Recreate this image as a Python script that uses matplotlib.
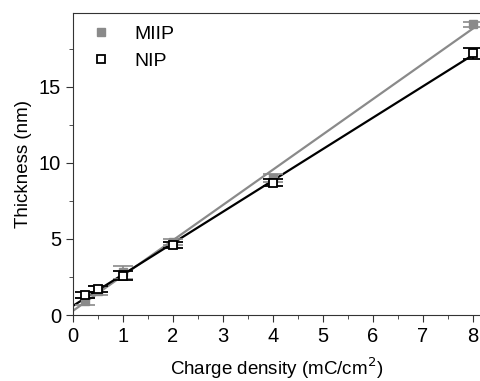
import numpy as np
import matplotlib
matplotlib.use("Agg")
import matplotlib.pyplot as plt
from matplotlib.ticker import MultipleLocator

plt.rcParams['font.family'] = ['Liberation Sans', 'DejaVu Sans']

charge = [0.25, 0.5, 1, 2, 4, 8]
miip = [0.9, 1.6, 2.8, 4.8, 9.0, 19.1]
miip_err = [0.25, 0.3, 0.4, 0.2, 0.25, 0.15]
nip = [1.3, 1.7, 2.6, 4.6, 8.7, 17.2]
nip_err = [0.2, 0.2, 0.3, 0.2, 0.25, 0.35]

gray = '#8a8a8a'

fig = plt.figure(figsize=(4.8, 3.81), dpi=100)
ax = fig.add_axes([0.152, 0.173, 0.848, 0.793])

# linear fits
xf = np.array([0, 8])
for y, c in [(miip, gray), (nip, 'black')]:
    k, b = np.polyfit(charge, y, 1)
    ax.plot(xf, k * xf + b, color=c, lw=1.6, zorder=2)

ax.errorbar(charge, miip, yerr=miip_err, fmt='s', color=gray, ms=6,
            capsize=7, elinewidth=1.2, capthick=1.2, label='MIIP', zorder=3)
ax.errorbar(charge, nip, yerr=nip_err, fmt='s', color='black', mfc='white',
            mec='black', mew=1.3, ms=6, capsize=7, elinewidth=1.2,
            capthick=1.2, label='NIP', zorder=4)

ax.set_xlim(0, 8.14)
ax.set_ylim(0, 19.85)
ax.xaxis.set_major_locator(MultipleLocator(1))
ax.xaxis.set_minor_locator(MultipleLocator(0.5))
ax.yaxis.set_major_locator(MultipleLocator(5))
ax.yaxis.set_minor_locator(MultipleLocator(2.5))
ax.tick_params(which='both', direction='out', labelsize=14.5, color='#333333')
ax.tick_params(which='major', length=5)
ax.tick_params(which='minor', length=3)
ax.spines['right'].set_visible(False)
for s in ['left', 'top', 'bottom']:
    ax.spines[s].set_color('#333333')

ax.set_xlabel('Charge density (mC/cm$^2$)', fontsize=13.5, labelpad=7)
ax.set_ylabel('Thickness (nm)', fontsize=13.5, labelpad=5)

handles, labels = ax.get_legend_handles_labels()
handles = [h[0] for h in handles]
ax.legend(handles, labels, loc='upper left', frameon=False, fontsize=14,
          handletextpad=0.9, borderaxespad=0.25, handlelength=1.6,
          labelspacing=0.45)

fig.savefig('out.png', dpi=100)
